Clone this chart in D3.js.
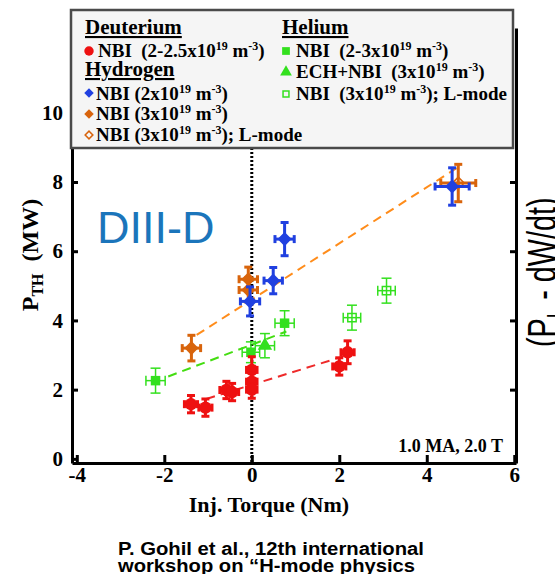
<!DOCTYPE html>
<html>
<head>
<meta charset="utf-8">
<script src="https://cdn.jsdelivr.net/npm/d3@7"></script>
<style>
  body { margin: 0; background: #fff; }
  svg { display: block; }
</style>
</head>
<body>
<div id="chart"></div>
<script>
// Data points: [torque (Nm), P_TH (MW), torque err, power err]
var deuteriumNBI = [[-1.39,1.58,0.15,0.25], [-1.06,1.48,0.15,0.25], [-0.58,1.99,0.15,0.25], [-0.45,1.93,0.15,0.25],
                    [0.0,2.57,0.12,0.38], [0.0,2.23,0.12,0.25], [0.0,2.0,0.12,0.25], [2.0,2.67,0.15,0.25], [2.19,3.08,0.15,0.33]];
var hydrogenNBI2 = [[-0.04,4.55,0.22,0.42], [0.49,5.15,0.21,0.38], [0.75,6.35,0.22,0.48], [4.58,7.87,0.39,0.54]];
var hydrogenNBI3 = [[-1.38,3.2,0.21,0.37], [-0.08,5.19,0.21,0.35], [-0.08,4.88,0.21,0.35]];
var hydrogenNBI3L = [[4.72,7.97,0.4,0.54]];
var heliumNBI = [[-2.2,2.26,0.22,0.36], [-0.02,3.08,0.2,0.3], [0.75,3.92,0.22,0.36]];
var heliumECH = [[0.3,3.27,0.22,0.35]];
var heliumNBIL = [[2.29,4.08,0.2,0.36], [3.08,4.86,0.2,0.36]];

// Dashed fits: [x0, y0, x1, y1]
var fitOrange = [-1.26, 3.58, 4.68, 8.4];
var fitGreen = [-1.91, 2.38, 0.79, 3.68];
var fitRed = [-1.04, 1.73, 2.09, 2.96];

var xTicks = [-4, -2, 0, 2, 4, 6];
var yTicks = [0, 2, 4, 6, 8, 10];
var rightTicks = [2, 4, 6, 8];

var legendTitles = ["Deuterium", "Hydrogen", "Helium"];
var legendLabels = ["NBI  (2-2.5x10^{19} m^{-3})", "NBI (2x10^{19} m^{-3})", "NBI (3x10^{19} m^{-3})",
                    "NBI (3x10^{19} m^{-3}); L-mode", "NBI  (2-3x10^{19} m^{-3})", "ECH+NBI  (3x10^{19} m^{-3})",
                    "NBI  (3x10^{19} m^{-3}); L-mode"];

var colors = {red: "#ee1111", blue: "#2040e0", orange: "#d8640c", green: "#33e01e",
              redLine: "#ee2a2a", orangeLine: "#ff8c1a", greenLine: "#44dd11"};

var w = 555, h = 574;
var svg = d3.select("#chart").append("svg")
    .attr("width", w)
    .attr("height", h);

var x = d3.scaleLinear().domain([-4.11, 6.04]).range([72, 516]);
var y = d3.scaleLinear().domain([-0.12, 12.45]).range([463, 28]);

var serif = "'Liberation Serif', 'Times New Roman', serif";
var sans = "'Liberation Sans', Arial, sans-serif";

// zero torque dotted line
svg.append("line")
    .attr("x1", x(0)).attr("x2", x(0))
    .attr("y1", y(12.45)).attr("y2", y(-0.12))
    .style("stroke", "#000")
    .style("stroke-width", 3)
    .style("stroke-dasharray", "2,2");

// Dashed fit lines
function drawFit(f, color){
    svg.append("line")
        .attr("x1", x(f[0])).attr("y1", y(f[1]))
        .attr("x2", x(f[2])).attr("y2", y(f[3]))
        .style("stroke", color)
        .style("stroke-width", 2)
        .style("stroke-dasharray", "9,6");
}
drawFit(fitOrange, colors.orangeLine);
drawFit(fitGreen, colors.greenLine);
drawFit(fitRed, colors.redLine);

// error bars + markers for one series
function drawSeries(data, color, symbol, size, opts){
    var g = svg.append("g");
    var sw = opts.thin ? 1.5 : 3;
    var cap = opts.thin ? 5 : 4;
    data.forEach(function(d){
        var cx = x(d[0]), cy = y(d[1]);
        var xl = x(d[0] - d[2]), xr = x(d[0] + d[2]);
        var yb = y(d[1] - d[3]), yt = y(d[1] + d[3]);
        g.append("line").attr("x1", xl).attr("x2", xr).attr("y1", cy).attr("y2", cy)
            .style("stroke", color).style("stroke-width", sw);
        g.append("line").attr("x1", cx).attr("x2", cx).attr("y1", yb).attr("y2", yt)
            .style("stroke", color).style("stroke-width", sw);
        // caps
        [xl, xr].forEach(function(xx){
            g.append("line").attr("x1", xx).attr("x2", xx).attr("y1", cy - cap).attr("y2", cy + cap)
                .style("stroke", color).style("stroke-width", sw);
        });
        [yb, yt].forEach(function(yy){
            g.append("line").attr("x1", cx - cap).attr("x2", cx + cap).attr("y1", yy).attr("y2", yy)
                .style("stroke", color).style("stroke-width", sw);
        });
        g.append("path")
            .attr("d", d3.symbol().type(symbol).size(size)())
            .attr("transform", "translate(" + cx + "," + cy + ")" + (opts.rotate ? " rotate(45)" : ""))
            .style("fill", opts.open ? "none" : color)
            .style("stroke", color)
            .style("stroke-width", opts.open ? 1.5 : 0);
    });
}

drawSeries(heliumNBI, colors.green, d3.symbolSquare, 90, {thin: true});
drawSeries(heliumECH, colors.green, d3.symbolTriangle, 90, {thin: true});
drawSeries(heliumNBIL, colors.green, d3.symbolSquare, 70, {thin: true, open: true});
drawSeries(deuteriumNBI, colors.red, d3.symbolCircle, 120, {});
drawSeries(hydrogenNBI3, colors.orange, d3.symbolSquare, 100, {rotate: true});
drawSeries(hydrogenNBI3L, colors.orange, d3.symbolSquare, 70, {rotate: true, open: true});
drawSeries(hydrogenNBI2, colors.blue, d3.symbolSquare, 100, {rotate: true});

// Draw the X Axis
var xAxis = d3.axisBottom(x).tickValues(xTicks).tickSize(-8).tickSizeOuter(0).tickPadding(4)
    .tickFormat(function(d){ return String(d); });
var gx = svg.append("g").attr("transform", "translate(0," + 463 + ")").call(xAxis);

// Draw the Y Axis
var yAxis = d3.axisLeft(y).tickValues(yTicks).tickSize(-6).tickSizeOuter(0).tickPadding(9);
var gy = svg.append("g").attr("transform", "translate(" + 72 + ",0)").call(yAxis);

// right side axis (no labels)
var yAxisR = d3.axisRight(y).tickValues(rightTicks).tickSize(-6).tickSizeOuter(0).tickFormat("");
var gr = svg.append("g").attr("transform", "translate(" + 516 + ",0)").call(yAxisR);

[gx, gy, gr].forEach(function(g){
    g.select(".domain").style("stroke", "#000").style("stroke-width", 3);
    g.selectAll(".tick line").style("stroke", "#000").style("stroke-width", 3);
    g.selectAll("text")
        .style("font-family", serif)
        .style("font-weight", "bold")
        .style("font-size", "21px")
        .style("fill", "#000");
});

// Axis titles
svg.append("text")
    .attr("x", 269).attr("y", 512)
    .attr("text-anchor", "middle")
    .style("font-family", serif).style("font-weight", "bold").style("font-size", "22px")
    .text("Inj. Torque (Nm)");

var yl = svg.append("text")
    .attr("transform", "translate(38,255) rotate(-90)")
    .attr("text-anchor", "middle")
    .style("font-family", serif).style("font-weight", "bold").style("font-size", "24px")
    .style("white-space", "pre");
yl.append("tspan").text("P");
yl.append("tspan").attr("dy", 5).style("font-size", "16px").text("TH");
yl.append("tspan").attr("dy", -5).text("  (MW)");

// DIII-D label
svg.append("text")
    .attr("x", 97).attr("y", 243)
    .style("font-family", sans).style("font-size", "45px")
    .style("fill", "#1b75bb")
    .text("DIII-D");

svg.append("text")
    .attr("x", 503).attr("y", 452)
    .attr("text-anchor", "end")
    .style("font-family", serif).style("font-weight", "bold").style("font-size", "18px")
    .text("1.0 MA, 2.0 T");

// cut off axis title of the neighbouring panel
var rt = svg.append("text")
    .attr("transform", "translate(556,347) rotate(-90) scale(0.72,1)")
    .style("font-family", sans).style("font-size", "40px")
    .style("fill", "#000");
rt.append("tspan").text("(P");
rt.append("tspan").attr("dy", 9).style("font-size", "26px").text("L");
rt.append("tspan").attr("dy", -9).style("white-space", "pre").text(" - dW/dt)");

// footer
svg.append("text")
    .attr("x", 118).attr("y", 555)
    .attr("textLength", 306).attr("lengthAdjust", "spacingAndGlyphs")
    .style("font-family", sans).style("font-weight", "bold").style("font-size", "18px")
    .text("P. Gohil et al., 12th international");
svg.append("text")
    .attr("x", 118).attr("y", 572)
    .attr("textLength", 297).attr("lengthAdjust", "spacingAndGlyphs")
    .style("font-family", sans).style("font-weight", "bold").style("font-size", "18px")
    .text("workshop on \u201cH-mode physics");

// Legend box
var lg = svg.append("g");
lg.append("rect")
    .attr("x", 71).attr("y", 10)
    .attr("width", 442).attr("height", 138)
    .style("fill", "#f5f5f5")
    .style("stroke", "#4a4a4a")
    .style("stroke-width", 2.5);

function legendTitle(xp, yp, label){
    lg.append("text")
        .attr("x", xp).attr("y", yp)
        .style("font-family", serif).style("font-weight", "bold").style("font-size", "21px")
        .style("text-decoration", "underline")
        .text(label);
}

// label text with ^{..} superscripts
function legendItem(xp, yp, label){
    var t = lg.append("text")
        .attr("x", xp).attr("y", yp)
        .style("font-family", serif).style("font-weight", "bold").style("font-size", "19px")
        .style("white-space", "pre");
    var parts = label.split(/\^\{([^}]*)\}/);
    var up = false;
    for(var i = 0; i < parts.length; i++){
        if(parts[i] == "") continue;
        var ts = t.append("tspan").text(parts[i]);
        if(i % 2 == 1){
            ts.style("font-size", "12px").attr("dy", up ? 0 : -7);
            up = true;
        } else if(up){
            ts.attr("dy", 7);
            up = false;
        }
    }
}

function legendMarker(xp, yp, symbol, size, color, rotate, open){
    lg.append("path")
        .attr("d", d3.symbol().type(symbol).size(size)())
        .attr("transform", "translate(" + xp + "," + yp + ")" + (rotate ? " rotate(45)" : ""))
        .style("fill", open ? "none" : color)
        .style("stroke", color)
        .style("stroke-width", open ? 1.5 : 0);
}

legendTitle(85, 34, legendTitles[0]);
legendTitle(85, 76, legendTitles[1]);
legendTitle(282, 34, legendTitles[2]);

legendMarker(89, 51, d3.symbolCircle, 70, colors.red);
legendItem(98, 57, legendLabels[0]);
legendMarker(89, 93, d3.symbolSquare, 45, colors.blue, true);
legendItem(96, 100, legendLabels[1]);
legendMarker(89, 114, d3.symbolSquare, 45, colors.orange, true);
legendItem(96, 120, legendLabels[2]);
legendMarker(89, 135, d3.symbolSquare, 30, colors.orange, true, true);
legendItem(96, 141, legendLabels[3]);

legendMarker(286, 51, d3.symbolSquare, 60, colors.green);
legendItem(296, 57, legendLabels[4]);
legendMarker(286, 72, d3.symbolTriangle, 60, colors.green);
legendItem(296, 78, legendLabels[5]);
legendMarker(286, 94, d3.symbolSquare, 35, colors.green, false, true);
legendItem(296, 100, legendLabels[6]);
</script>
</body>
</html>
